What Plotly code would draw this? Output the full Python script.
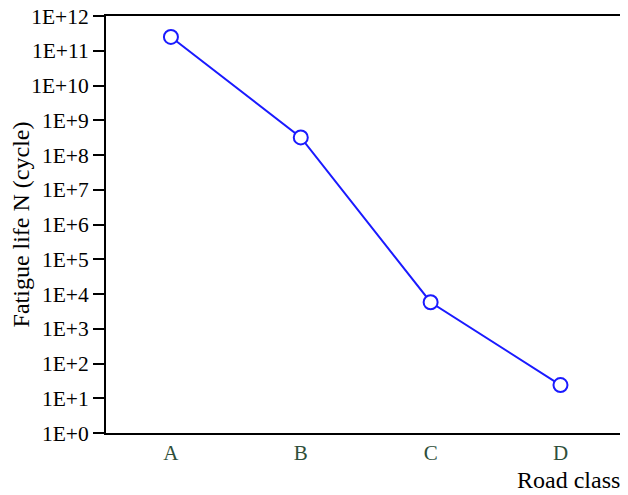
import plotly.graph_objects as go

categories = ["A", "B", "C", "D"]
fatigue_life = [2.5e11, 3.2e8, 5.8e3, 24]
y_tick_vals = [10**k for k in range(0, 13)]
y_tick_text = ["1E+%d" % k for k in range(0, 13)]

FONT = "Liberation Serif"

fig = go.Figure()
fig.add_trace(go.Scatter(
    x=categories, y=fatigue_life, mode="lines+markers",
    line=dict(color="#1a1aff", width=2),
    marker=dict(symbol="circle", size=14, color="white",
                line=dict(color="#1a1aff", width=2)),
    showlegend=False,
))

fig.update_layout(
    width=620, height=487,
    margin=dict(l=98, r=0, t=8, b=62),
    paper_bgcolor="white", plot_bgcolor="white",
    font=dict(family=FONT, color="black"),
    xaxis=dict(
        type="category", range=[-0.5, 3.52], automargin=False,
        showline=True, linecolor="black", linewidth=2, mirror=True,
        showgrid=False, zeroline=False, ticks="",
        tickfont=dict(family=FONT, size=21, color="#2f4f3a"),
        ticklabelstandoff=0,
    ),
    yaxis=dict(
        type="log", range=[0, 12], automargin=False,
        tickvals=y_tick_vals, ticktext=y_tick_text,
        ticklabeloverflow="allow",
        showline=True, linecolor="black", linewidth=2,
        showgrid=False, zeroline=False,
        ticks="outside", ticklen=11, tickwidth=1.5, tickcolor="black",
        tickfont=dict(family=FONT, size=21.5, color="black"),
        title=dict(text="Fatigue life N (cycle)", font=dict(family=FONT, size=24), standoff=3),
    ),
    annotations=[dict(
        text="Road class", xref="paper", yref="paper", x=1.0, y=0,
        xanchor="right", yanchor="middle", yshift=-47, xshift=-6, showarrow=False,
        font=dict(family=FONT, size=24, color="black"),
    )],
)

fig.write_html("out.html")
